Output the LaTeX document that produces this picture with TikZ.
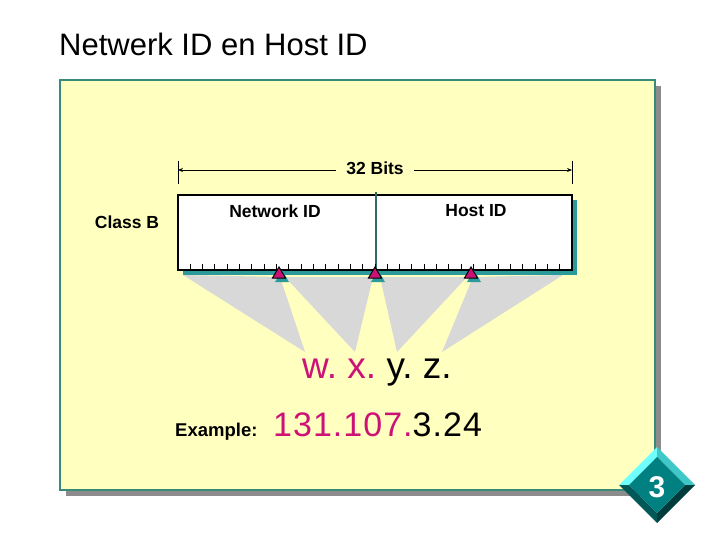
\documentclass[tikz,border=0pt]{standalone}
\usepackage{fontspec}
\setmainfont{Liberation Sans}
\usetikzlibrary{arrows.meta}
\definecolor{panelyellow}{HTML}{FFFFC0}
\definecolor{panelborder}{HTML}{3A8A78}
\definecolor{panelshadow}{HTML}{8C8C8C}
\definecolor{tealshadow}{HTML}{2A9A9A}
\definecolor{fangray}{HTML}{D8D8D8}
\definecolor{magenta2}{HTML}{CC1177}
\definecolor{dteal}{HTML}{008080}
\definecolor{lcyan}{HTML}{70FFFF}
\definecolor{mcyan}{HTML}{40C8C8}
\definecolor{dkteal}{HTML}{005858}
\definecolor{dkteal2}{HTML}{003C3C}
\tikzset{
  lbl/.style={font=\fontsize{17.5}{20}\selectfont\bfseries, inner sep=0pt},
  big/.style={font=\fontsize{37}{42}\selectfont, inner sep=0pt, anchor=base west},
  tri/.style={fill=magenta2, draw=black, line width=1pt, line join=miter},
  trishadow/.style={fill=tealshadow},
  fan/.style={fill=fangray},
}
\begin{document}
\begin{tikzpicture}[x=1pt,y=-1pt]
\useasboundingbox (0,0) rectangle (720,540);
% title
\node[font=\fontsize{31}{36}\selectfont, anchor=base west, inner sep=0pt] (title) at (59,56) {Netwerk ID en Host ID};
% panel
\fill[panelshadow] (66,86) rectangle (661,496);
\draw[panelborder, line width=2pt, fill=panelyellow] (60,80) rectangle (655,490);
\coordinate (panel) at (357,285);
% fans
\fill[fan] (183,275) -- (280,277) -- (305,352) -- cycle;
\fill[fan] (285,277) -- (373,277) -- (355,352) -- cycle;
\fill[fan] (380,277) -- (467,277) -- (397,352) -- cycle;
\fill[fan] (473,277) -- (563,275) -- (442,352) -- cycle;
% bits arrow
\coordinate (bl) at (178,170);
\coordinate (br) at (572,170);
\draw[line width=1pt] (178,161) -- (178,184);
\draw[line width=1pt] (572,161) -- (572,184);
\draw[line width=0.9pt, {Stealth[length=5pt,width=4pt]}-{Stealth[length=5pt,width=4pt]}] (bl) -- (br);
\node[lbl, fill=panelyellow, inner xsep=10pt, inner ysep=2pt] (bits) at (375,168) {32 Bits};
% field rectangle
\fill[tealshadow] (183,200) rectangle (577,275);
\draw[line width=1.3pt, fill=white] (178,195) rectangle (572,270);
\node[draw=none, inner sep=0pt, minimum width=394pt, minimum height=75pt] (field) at (375,232.5) {};
\draw[color=panelborder!80!black, line width=1.2pt] (376,192) -- (376,270);
\foreach \k in {1,...,31} {
  \draw[line width=1pt] ({178+12.3125*\k},270) -- ++(0,-6);
}
\node[lbl] (net) at (275,211) {Network ID};
\node[lbl] (host) at (476,211) {Host ID};
\node[lbl, anchor=base] (classb) at (127,229) {Class B};
% triangles
\foreach \x/\n in {279/t1,375/t2,471/t3} {
  \fill[trishadow] ({\x+3},270) -- ({\x+10},282) -- ({\x-4},282) -- cycle;
  \draw[tri] (\x,267) -- ({\x+6.5},278) -- ({\x-6.5},278) -- cycle;
  \coordinate (\n) at (\x,273);
}
% w.x.y.z.
\node[big] (wx) at (302,378) {\textcolor{magenta2}{w.~x.}~y.~z.};
\node[big, font=\fontsize{34}{40}\selectfont] (num) at (273,436) {\addfontfeature{LetterSpace=3}\textcolor{magenta2}{131.107.}3.24};
\node[lbl, font=\fontsize{18.5}{21}\selectfont\bfseries, anchor=base west] (ex) at (175,436) {Example:};
% badge
\coordinate (T) at (657,447); \coordinate (R) at (695,485);
\coordinate (B) at (657,523); \coordinate (L) at (619,485);
\coordinate (t) at (657,457); \coordinate (r) at (685,485);
\coordinate (b) at (657,513); \coordinate (l) at (629,485);
\fill[lcyan] (L) -- (T) -- (t) -- (l) -- cycle;
\fill[mcyan] (T) -- (R) -- (r) -- (t) -- cycle;
\fill[dkteal2] (R) -- (B) -- (b) -- (r) -- cycle;
\fill[dkteal] (B) -- (L) -- (l) -- (b) -- cycle;
\fill[dteal] (t) -- (r) -- (b) -- (l) -- cycle;
\node[font=\fontsize{30}{34}\selectfont\bfseries, text=white, inner sep=0pt] (badge) at (657,487) {3};
\end{tikzpicture}
\end{document}
